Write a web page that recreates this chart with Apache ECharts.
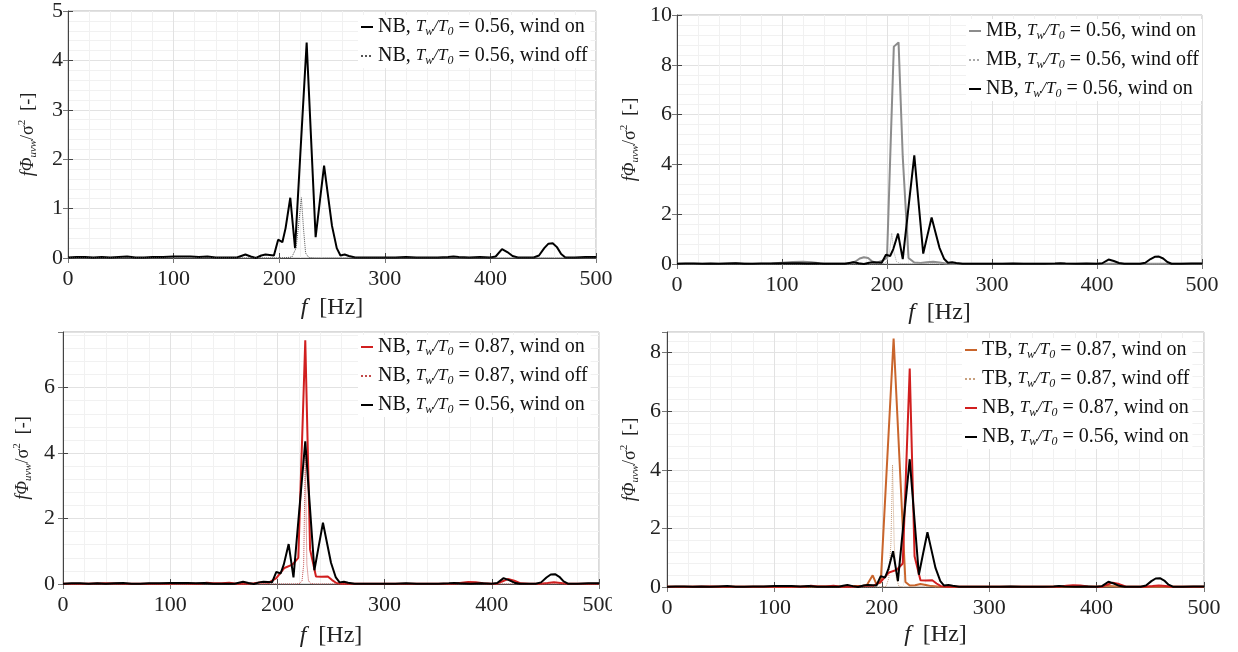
<!DOCTYPE html>
<html><head><meta charset="utf-8">
<script src="https://cdn.jsdelivr.net/npm/echarts@6/dist/echarts.min.js"></script>
<style>html,body{margin:0;padding:0;background:#fff}#c{width:1238px;height:652px}</style>
</head><body><div id="c"></div>
<script>
// ---- data (frequency [Hz], normalised spectrum values) ----
const nb056OnF = [0,8,16,24,32,40,48,56,64,72,80,90,100,108,116,124,132,140,150,160,164,168,173,178,183,187,191,195,199,203,206,210.5,215,220,226,230,234.5,238.5,242.5,246,250,254.5,258,262,266,272,280,290,300,310,320,330,340,350,360,365,370,380,390,400,405,411,416,421,426,435,441,446,451,455,459,463,467,471,480,490,500];
const nb056OnV = [0.01,0.02,0.02,0.01,0.02,0.01,0.02,0.03,0.01,0.01,0.02,0.02,0.03,0.03,0.03,0.02,0.03,0.01,0.01,0.01,0.04,0.07,0.03,0.0,0.05,0.07,0.06,0.05,0.37,0.32,0.6,1.22,0.2,2.1,4.36,2.5,0.42,1.15,1.87,1.3,0.65,0.2,0.05,0.07,0.04,0.01,0.01,0.01,0.01,0.01,0.02,0.01,0.01,0.01,0.02,0.03,0.02,0.01,0.02,0.01,0.03,0.18,0.12,0.04,0.01,0.01,0.01,0.05,0.2,0.29,0.3,0.22,0.08,0.01,0.01,0.02,0.02];

const nb056OffF = [0,100,200,208,212,216,218.5,221,223,225,228,234,300,400,500];
const nb056OffV = [0,0,0,0.01,0.02,0.2,0.7,1.22,0.6,0.1,0.01,0,0,0,0];

const mb056OnF = [0,20,40,55,70,90,100,110,120,128,136,145,155,165,170,174,178,182,186,190,195,200,203,206.5,211,215,220.5,226,232,238,244,250,256,262,280,300,350,400,450,500];
const mb056OnV = [0.01,0.01,0.01,0.03,0.01,0.02,0.05,0.08,0.09,0.07,0.03,0.02,0.02,0.03,0.1,0.22,0.27,0.24,0.1,0.05,0.12,0.25,4.2,8.73,8.9,4.3,0.24,0.06,0.04,0.07,0.09,0.06,0.02,0.01,0.01,0.01,0.01,0.01,0.01,0.01];

const mb056OffF = [0,190,197,200,202.5,204.5,206.5,209,212,216,230,250,256,270,500];
const mb056OffV = [0,0,0.02,0.1,0.5,1.24,0.5,0.1,0.03,0.02,0.03,0.03,0.01,0,0];

const nb087OnF = [0,20,40,60,80,100,110,120,128,134,140,148,155,162,170,178,186,192,199,206.5,214,219.5,226,230.5,236,241,247,251,255,260,280,300,340,365,372,378,385,392,400,405,409,415,421,427,435,445,452,458,464,470,480,500];
const nb087OnV = [0.01,0.01,0.02,0.01,0.01,0.01,0.02,0.01,0.01,0.04,0.02,0.02,0.04,0.01,0.01,0.02,0.05,0.04,0.18,0.49,0.59,0.8,7.45,1.05,0.23,0.22,0.23,0.12,0.03,0.01,0.01,0.01,0.01,0.01,0.04,0.06,0.05,0.02,0.01,0.01,0.07,0.15,0.1,0.02,0.01,0.01,0.03,0.05,0.03,0.01,0.01,0.01];

const nb087OffF = [0,200,218,221,223,224.5,226,227.5,229,231,234,300,500];
const nb087OffV = [0,0,0,0.02,0.1,0.6,3.9,0.6,0.1,0.02,0,0,0];

const tb087OnF = [0,20,40,60,80,100,120,140,160,170,180,186,191.5,195,199,211,222,226,231,236,241,246,252,260,300,350,380,400,410,420,450,500];
const tb087OnV = [0.01,0.01,0.01,0.01,0.01,0.01,0.01,0.02,0.02,0.03,0.03,0.06,0.4,0.1,0.15,8.48,0.17,0.05,0.06,0.1,0.07,0.03,0.02,0.01,0.01,0.01,0.02,0.01,0.03,0.02,0.01,0.01];

const tb087OffF = [0,200,204,206.5,208.5,210,211.5,213.5,216,220,500];
const tb087OffV = [0,0,0.02,0.3,1.5,4.17,1.5,0.3,0.02,0,0];

const yMaxes = [5, 10, 7.7, 8.7];
const yIntervals = [1, 2, 2, 2];

const N_NB056ON = 'NB, Tw/T0 = 0.56, wind on';
const N_NB056OFF = 'NB, Tw/T0 = 0.56, wind off';
const N_MB056ON = 'MB, Tw/T0 = 0.56, wind on';
const N_MB056OFF = 'MB, Tw/T0 = 0.56, wind off';
const N_NB087ON = 'NB, Tw/T0 = 0.87, wind on';
const N_NB087OFF = 'NB, Tw/T0 = 0.87, wind off';
const N_TB087ON = 'TB, Tw/T0 = 0.87, wind on';
const N_TB087OFF = 'TB, Tw/T0 = 0.87, wind off';

// ---- styling / layout ----
const SERIF = "'Liberation Serif','DejaVu Serif',serif";
const pairs = (f, v) => f.map((x, i) => [x, v[i]]);

const grids = [
  {left: 68, top: 11, width: 528, height: 247},
  {left: 677, top: 15, width: 525, height: 249},
  {left: 63, top: 332, width: 536, height: 252},
  {left: 667, top: 332, width: 537, height: 255}
];
const xNameGaps = [38, 37, 40, 36];
const yNameGaps = [29, 36, 29, 26];
const yLabelMargins = [5, 5, 8, 6];
const legendPos = [
  {left: 358, top: 15},
  {left: 966, top: 19},
  {left: 358, top: 335},
  {left: 962, top: 338}
];

const styles = {
  [N_NB056ON]: {color: '#000000', width: 2, type: 'solid'},
  [N_NB056OFF]: {color: '#555555', width: 1, type: 'dotted'},
  [N_MB056ON]: {color: '#8c8c8c', width: 2, type: 'solid'},
  [N_MB056OFF]: {color: '#a8a8a8', width: 1, type: 'dotted'},
  [N_NB087ON]: {color: '#d11f1f', width: 2, type: 'solid'},
  [N_NB087OFF]: {color: '#c24a4a', width: 1, type: 'dotted'},
  [N_TB087ON]: {color: '#c9652c', width: 2, type: 'solid'},
  [N_TB087OFF]: {color: '#c8a07e', width: 1, type: 'dotted'}
};

const panels = [
  [[N_NB056ON, nb056OnF, nb056OnV], [N_NB056OFF, nb056OffF, nb056OffV]],
  [[N_MB056ON, mb056OnF, mb056OnV], [N_MB056OFF, mb056OffF, mb056OffV], [N_NB056ON, nb056OnF, nb056OnV]],
  [[N_NB087ON, nb087OnF, nb087OnV], [N_NB087OFF, nb087OffF, nb087OffV], [N_NB056ON, nb056OnF, nb056OnV]],
  [[N_TB087ON, tb087OnF, tb087OnV], [N_TB087OFF, tb087OffF, tb087OffV], [N_NB087ON, nb087OnF, nb087OnV], [N_NB056ON, nb056OnF, nb056OnV]]
];

const axisColor = '#444';
const gridArr = [], xAxes = [], yAxes = [], series = [], legends = [];

panels.forEach((pan, i) => {
  gridArr.push(Object.assign({show: true, borderColor: '#b5b5b5', borderWidth: 1, backgroundColor: '#fff', containLabel: false}, grids[i]));
  const xBase = {type: 'value', gridIndex: i, min: 0, max: 500, interval: 100};
  xAxes.push(Object.assign({}, xBase, {
    position: 'bottom',
    axisLine: {show: true, onZero: false, lineStyle: {color: axisColor, width: 1}},
    axisTick: {show: true, inside: true, length: 5, lineStyle: {color: axisColor}},
    axisLabel: {fontFamily: SERIF, fontSize: 22, color: '#222', margin: 10},
    splitLine: {show: true, lineStyle: {color: '#e2e2e2', width: 1}},
    minorTick: {show: false, splitNumber: 5},
    minorSplitLine: {show: true, lineStyle: {color: '#f1f1f1', width: 1}},
    name: '{i|f}  [Hz]', nameLocation: 'middle', nameGap: xNameGaps[i], nameMoveOverlap: false,
    nameTextStyle: {fontFamily: SERIF, fontSize: 24, color: '#222',
      rich: {i: {fontFamily: SERIF, fontStyle: 'italic', fontSize: 24, color: '#222'}}}
  }));
  xAxes.push(Object.assign({}, xBase, {
    position: 'top',
    axisLine: {show: false}, axisLabel: {show: false},
    axisTick: {show: true, inside: true, length: 5, lineStyle: {color: '#777'}},
    splitLine: {show: false}
  }));
  const yBase = {type: 'value', gridIndex: i, min: 0, max: yMaxes[i], interval: yIntervals[i]};
  yAxes.push(Object.assign({}, yBase, {
    position: 'left',
    axisLine: {show: true, onZero: false, lineStyle: {color: axisColor, width: 1}},
    axisTick: {show: true, inside: true, length: 5, lineStyle: {color: axisColor}},
    axisLabel: {fontFamily: SERIF, fontSize: 22, color: '#222', margin: yLabelMargins[i], showMaxLabel: (yMaxes[i] % yIntervals[i] === 0)},
    splitLine: {show: true, lineStyle: {color: '#e2e2e2', width: 1}},
    minorTick: {show: false, splitNumber: 5},
    minorSplitLine: {show: true, lineStyle: {color: '#f1f1f1', width: 1}},
    name: '{i|fΦ}{s|uvw}{n|/σ}{p|2}  {n|[-]}', nameLocation: 'middle', nameGap: yNameGaps[i], nameMoveOverlap: false,
    nameTextStyle: {fontFamily: SERIF, fontSize: 18, color: '#222', lineHeight: 22,
      rich: {
        i: {fontFamily: SERIF, fontStyle: 'italic', fontSize: 18, color: '#222', lineHeight: 22},
        n: {fontFamily: SERIF, fontSize: 18, color: '#222', lineHeight: 22},
        s: {fontFamily: SERIF, fontStyle: 'italic', fontSize: 11, color: '#222', lineHeight: 11, verticalAlign: 'bottom'},
        p: {fontFamily: SERIF, fontSize: 11, color: '#222', lineHeight: 11, verticalAlign: 'top'}
      }}
  }));
  yAxes.push(Object.assign({}, yBase, {
    position: 'right',
    axisLine: {show: false}, axisLabel: {show: false},
    axisTick: {show: true, inside: true, length: 5, lineStyle: {color: '#777'}},
    splitLine: {show: false}
  }));

  pan.forEach(([name, f, v]) => {
    const st = styles[name];
    series.push({
      type: 'line', name: name, xAxisIndex: 2 * i, yAxisIndex: 2 * i,
      data: pairs(f, v), showSymbol: false, symbol: 'none', smooth: false,
      animation: false, clip: true,
      lineStyle: {color: st.color, width: st.width, type: st.type},
      itemStyle: {color: st.color}
    });
  });

  legends.push({
    orient: 'vertical', left: legendPos[i].left, top: legendPos[i].top,
    itemWidth: 12, itemHeight: 4, itemGap: 7,
    itemStyle: {opacity: 0},
    backgroundColor: '#fff', padding: [1, 3, 1, 2],
    selectedMode: false,
    data: pan.map(p => p[0]),
    formatter: n => n.replace('Tw/T0', '{t|T}{s|w}{t|/T}{s|0}'),
    textStyle: {fontFamily: SERIF, fontSize: 20, color: '#111', lineHeight: 22,
      rich: {
        t: {fontFamily: SERIF, fontStyle: 'italic', fontSize: 17, color: '#111', lineHeight: 22},
        s: {fontFamily: SERIF, fontStyle: 'italic', fontSize: 12, color: '#111', lineHeight: 12, verticalAlign: 'bottom'}
      }}
  });
});

const chart = echarts.init(document.getElementById('c'), null, {renderer: 'canvas'});
chart.setOption({
  backgroundColor: '#fff',
  animation: false,
  grid: gridArr, xAxis: xAxes, yAxis: yAxes, series: series, legend: legends,
  graphic: [{type: 'rect', left: 612, top: 592, shape: {width: 8, height: 24}, style: {fill: '#fff'}, z: 100}]
});
</script></body></html>
